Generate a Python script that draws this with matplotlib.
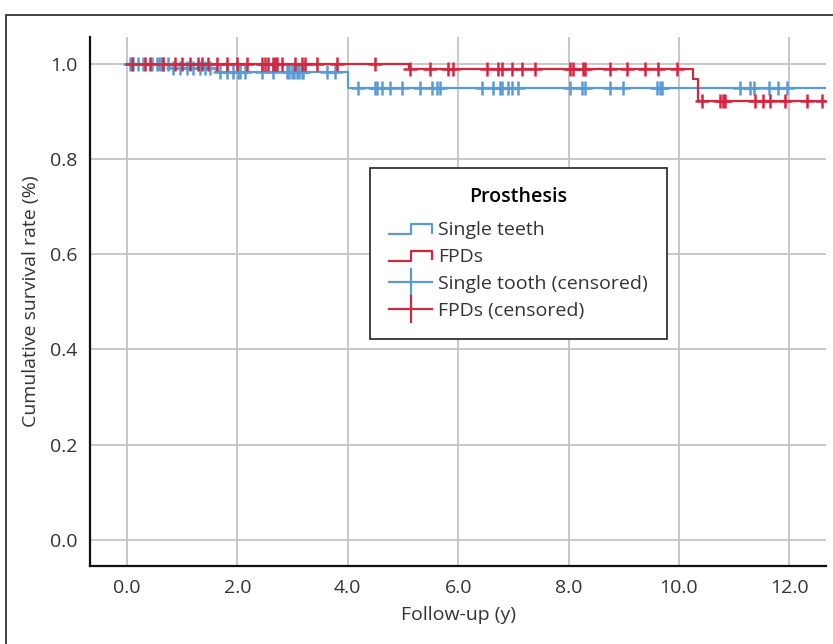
import numpy as np
import matplotlib
matplotlib.use("Agg")
import matplotlib.pyplot as plt
from matplotlib.lines import Line2D
from matplotlib.legend_handler import HandlerBase
from matplotlib.patches import Rectangle

plt.rcParams['font.family'] = ['Open Sans', 'DejaVu Sans']

# Kaplan-Meier steps
single_t = [0.0, 0.78, 1.62, 4.0, 12.65]
single_s = [1.0, 0.992, 0.983, 0.95, 0.95]
fpd_t = [0.0, 5.11, 10.25, 10.34, 12.65]
fpd_s = [1.0, 0.99, 0.968, 0.922, 0.922]

# censored observations (years)
single_cens = [0.05, 0.11, 0.2, 0.29, 0.45, 0.54, 0.58, 0.62, 0.65, 0.74,
               0.83, 0.96, 1.09, 1.2, 1.32, 1.41, 1.5,
               1.68, 1.81, 1.92, 2.01, 2.05, 2.14, 2.45, 2.64, 2.9, 2.93, 2.99,
               3.03, 3.08, 3.12, 3.17, 3.19, 3.62, 3.77,
               4.18, 4.49, 4.53, 4.62, 4.76, 4.98, 5.31, 5.53, 5.62, 5.67,
               6.43, 6.63, 6.76, 6.79, 6.9, 6.97, 7.08, 8.03, 8.24, 8.3, 8.75,
               8.99, 9.6, 9.66, 9.69, 11.11, 11.29, 11.36, 11.63, 11.79, 11.96]
fpd_cens = [0.09, 0.33, 0.42, 0.65, 0.87, 1.0, 1.14, 1.29, 1.36, 1.47, 1.63,
            1.81, 1.99, 2.17, 2.44, 2.5, 2.55, 2.64, 2.68, 2.72, 2.81, 3.04,
            3.17, 3.22, 3.44, 3.8, 4.49,
            5.13, 5.49, 5.82, 5.91, 6.52, 6.72, 6.79, 6.97, 7.16, 7.39, 8.03,
            8.08, 8.26, 8.3, 8.75, 9.06, 9.38, 9.62, 9.96,
            10.42, 10.74, 10.8, 10.83, 11.38, 11.52, 11.65, 11.92, 12.32, 12.59]

blue = '#5b9bd5'
red = '#d4263e'
fs = 14


def surv_at(t, times, vals):
    idx = np.searchsorted(times, t, side='right') - 1
    return np.array(vals)[idx]


class StepHandler(HandlerBase):
    def create_artists(self, legend, orig_handle, xdescent, ydescent,
                       width, height, fontsize, trans):
        x0, x1 = -xdescent, -xdescent + width
        lo, hi = -ydescent + 0.1 * height, -ydescent + 0.85 * height
        xm = x0 + 0.5 * width
        xs = [x0, xm, xm, x1, x1]
        ys = [lo, lo, hi, hi, lo + 0.1 * height]
        ln = Line2D(xs, ys, color=orig_handle.get_color(), lw=1.6)
        ln.set_transform(trans)
        return [ln]


fig = plt.figure(figsize=(8.33, 6.44), dpi=100)
ax = fig.add_axes([0.108, 0.121, 0.884, 0.822])

fig.add_artist(Rectangle((6 / 833, -0.05), 1.1, 1 - 15 / 644 + 0.05,
                         transform=fig.transFigure, fill=False,
                         edgecolor='#222222', lw=1.2))

ax.plot(single_t, single_s, drawstyle='steps-post', color=blue, lw=1.6)
ax.plot(fpd_t, fpd_s, drawstyle='steps-post', color=red, lw=1.6)
ax.plot(single_cens, surv_at(single_cens, single_t, single_s), ls='none',
        marker='+', ms=10, mew=1.8, color=blue)
ax.plot(fpd_cens, surv_at(fpd_cens, fpd_t, fpd_s), ls='none',
        marker='+', ms=10, mew=1.8, color=red)

ax.set_xlim(-0.67, 12.67)
ax.set_ylim(-0.055, 1.057)
ax.set_xticks(np.arange(0, 13, 2))
ax.set_xticklabels(['%.1f' % v for v in np.arange(0, 13, 2)])
ax.set_yticks(np.arange(0, 1.01, 0.2))
ax.set_yticklabels(['%.1f' % v for v in np.arange(0, 1.01, 0.2)])
ax.tick_params(labelsize=fs, length=0, pad=9, colors='#333333')
ax.grid(True, color='#c4c4c4', lw=1.3)
ax.set_axisbelow(True)
for s in ['top', 'right']:
    ax.spines[s].set_visible(False)
for s in ['left', 'bottom']:
    ax.spines[s].set_linewidth(1.6)
    ax.spines[s].set_color('#111111')

ax.set_xlabel('Follow-up (y)', fontsize=fs, color='#333333', labelpad=7)
ax.set_ylabel('Cumulative survival rate (%)', fontsize=fs, color='#333333',
              labelpad=7)

h1 = Line2D([], [], color=blue)
h2 = Line2D([], [], color=red)
h3 = Line2D([], [], color=blue, lw=1.6, marker='|', ms=20, mew=1.6)
h4 = Line2D([], [], color=red, lw=1.6, marker='|', ms=20, mew=1.6)
leg = ax.legend([h1, h2, h3, h4],
                ['Single teeth', 'FPDs', 'Single tooth (censored)', 'FPDs (censored)'],
                handler_map={h1: StepHandler(), h2: StepHandler()},
                title='Prosthesis', loc='upper left',
                bbox_to_anchor=(0.380, 0.752), borderaxespad=0, fontsize=fs,
                title_fontproperties={'size': fs, 'weight': 'semibold'},
                numpoints=1, handlelength=2.2, handletextpad=0.3,
                labelspacing=0.45, borderpad=1.0, fancybox=False,
                framealpha=1, edgecolor='#222222')
leg.get_frame().set_linewidth(1.2)
leg._legend_box.sep = 10
for t in leg.get_texts():
    t.set_color('#333333')

fig.savefig('out.png', dpi=100)
